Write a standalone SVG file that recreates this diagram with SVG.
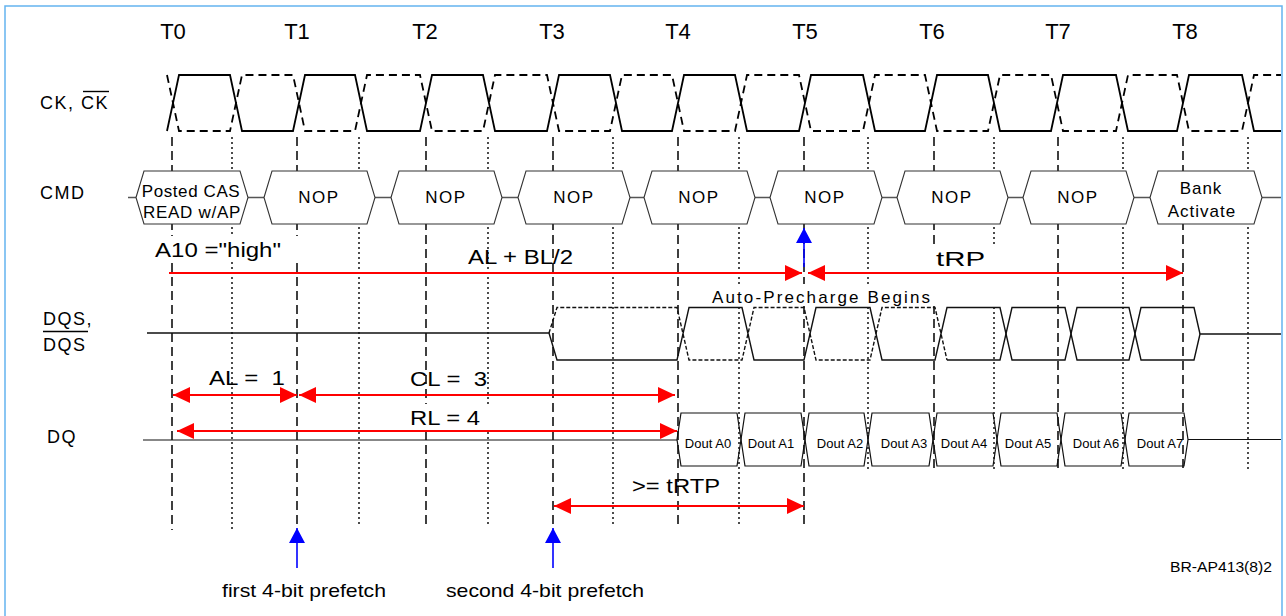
<svg xmlns="http://www.w3.org/2000/svg" width="1286" height="616" viewBox="0 0 1286 616">
<defs>
<style>
text{font-family:"Liberation Sans",Arial,sans-serif;fill:#000}
.tl{font-size:22px;text-anchor:middle}
.sig{font-size:18px;letter-spacing:1.5px}
.cmd{font-size:17px;text-anchor:middle;letter-spacing:1.5px}
.dout{font-size:13px;text-anchor:middle}
.big{font-size:20px;white-space:pre}
.note{font-size:19px}
.grid-d{stroke:#000;stroke-width:1.5;stroke-dasharray:9 5;fill:none}
.grid-o{stroke:#000;stroke-width:1.4;stroke-dasharray:2 3;fill:none}
.ck{stroke:#000;stroke-width:1.8;fill:none}
.ckn{stroke:#000;stroke-width:1.8;fill:none;stroke-dasharray:8 5}
.box{stroke:#333;stroke-width:1.1;fill:#fff}
.bus{stroke:#555;stroke-width:1.4;fill:none}
.dqs{stroke:#111;stroke-width:1.4;fill:none}
.dqsd{stroke:#111;stroke-width:1.4;fill:none;stroke-dasharray:4 2}
.dq{stroke:#111;stroke-width:1.2;fill:none}
.red{stroke:#ff0000;stroke-width:2;fill:none}
.blue{stroke:#0000ff;stroke-width:1.6;fill:none}
.mask{fill:#fff;stroke:none}
</style>
<marker id="ra" viewBox="0 0 17 16" refX="17" refY="8" markerWidth="17" markerHeight="16" markerUnits="userSpaceOnUse" orient="auto-start-reverse"><path d="M0,0 L17,8 L0,16 Z" fill="#ff0000"/></marker>
<marker id="ba" viewBox="0 0 15 16" refX="15" refY="8" markerWidth="15" markerHeight="16" markerUnits="userSpaceOnUse" orient="auto"><path d="M0,0 L15,8 L0,16 Z" fill="#0000ff"/></marker>
</defs>
<rect width="1286" height="616" fill="#fff"/>
<g id="frame" stroke="#64b4f0" stroke-width="1.5" fill="none">
<path d="M5,620 L5,6 L1282,6 L1282,620"/>
</g>
<g id="time-labels">
<text class="tl" x="173" y="39">T0</text>
<text class="tl" x="297" y="39">T1</text>
<text class="tl" x="425" y="39">T2</text>
<text class="tl" x="552" y="39">T3</text>
<text class="tl" x="678" y="39">T4</text>
<text class="tl" x="805" y="39">T5</text>
<text class="tl" x="932" y="39">T6</text>
<text class="tl" x="1058" y="39">T7</text>
<text class="tl" x="1185" y="39">T8</text>
</g>
<g id="signal-labels">
<text class="sig" x="40" y="109">CK, CK</text>
<line x1="83" y1="91.5" x2="109" y2="91.5" stroke="#000" stroke-width="1.4"/>
<text class="sig" x="40" y="199">CMD</text>
<text class="sig" x="43" y="325">DQS,</text>
<line x1="43" y1="331.5" x2="88" y2="331.5" stroke="#000" stroke-width="1.4"/>
<text class="sig" x="43" y="351">DQS</text>
<text class="sig" x="47" y="443">DQ</text>
</g>
<g id="grid">
<path class="grid-d" d="M172,137V530M297,137V528M426,137V525M553,137V528M678,137V525M804,137V525M934,137V470M1058,137V470M1183,137V470"/>
<path class="grid-o" d="M232,137V530M359,137V525M488,137V525M613,137V525M739,137V525M868,137V470M994,137V470M1123,137V470M1248,137V470"/>
</g>
<g id="ck">
<path class="ck" d="M167,131 L179,75 L230,75 L242,131 L293,131 L305,75 L355,75 L367,131 L420,131 L432,75 L483,75 L495,131 L547,131 L559,75 L610,75 L622,131 L672,131 L684,75 L735,75 L747,131 L799,131 L811,75 L863,75 L875,131 L925,131 L937,75 L988,75 L1000,131 L1051,131 L1063,75 L1116,75 L1128,131 L1177,131 L1189,75 L1242,75 L1254,131 L1281,131"/>
<path class="ckn" d="M167,75 L179,131 L230,131 L242,75 L293,75 L305,131 L355,131 L367,75 L420,75 L432,131 L483,131 L495,75 L547,75 L559,131 L610,131 L622,75 L672,75 L684,131 L735,131 L747,75 L799,75 L811,131 L863,131 L875,75 L925,75 L937,131 L988,131 L1000,75 L1051,75 L1063,131 L1116,131 L1128,75 L1177,75 L1189,131 L1242,131 L1254,75 L1281,75"/>
</g>
<g id="cmd-bus">
<path class="bus" d="M128,197.5H136M248,197.5H264M375,197.5H391M502,197.5H518M630,197.5H644M755,197.5H770M882,197.5H897M1008,197.5H1023M1134,197.5H1150M1262,197.5H1281"/>
</g>
<g id="cmd0"><path class="box" d="M136,197.5 L144,171 L240,171 L248,197.5 L240,224 L144,224 Z"/><text class="cmd" style="letter-spacing:0.6px" x="191" y="197">Posted CAS</text><text class="cmd" style="letter-spacing:0.7px" x="192" y="218">READ w/AP</text></g>
<g id="cmd1"><path class="box" d="M264,197.5 L272,171 L367,171 L375,197.5 L367,224 L272,224 Z"/><text class="cmd" x="319" y="203">NOP</text></g>
<g id="cmd2"><path class="box" d="M391,197.5 L399,171 L494,171 L502,197.5 L494,224 L399,224 Z"/><text class="cmd" x="446" y="203">NOP</text></g>
<g id="cmd3"><path class="box" d="M518,197.5 L526,171 L622,171 L630,197.5 L622,224 L526,224 Z"/><text class="cmd" x="574" y="203">NOP</text></g>
<g id="cmd4"><path class="box" d="M644,197.5 L652,171 L747,171 L755,197.5 L747,224 L652,224 Z"/><text class="cmd" x="699" y="203">NOP</text></g>
<g id="cmd5"><path class="box" d="M770,197.5 L778,171 L874,171 L882,197.5 L874,224 L778,224 Z"/><text class="cmd" x="825" y="203">NOP</text></g>
<g id="cmd6"><path class="box" d="M897,197.5 L905,171 L1000,171 L1008,197.5 L1000,224 L905,224 Z"/><text class="cmd" x="952" y="203">NOP</text></g>
<g id="cmd7"><path class="box" d="M1023,197.5 L1031,171 L1126,171 L1134,197.5 L1126,224 L1031,224 Z"/><text class="cmd" x="1078" y="203">NOP</text></g>
<g id="cmd8"><path class="box" d="M1150,197.5 L1158,171 L1254,171 L1262,197.5 L1254,224 L1158,224 Z"/><text class="cmd" style="letter-spacing:1px" x="1201" y="194">Bank</text><text class="cmd" style="letter-spacing:1px" x="1202" y="217">Activate</text></g>
<g id="dqs">
<path class="dqs" d="M147,333 L549,333 L557,360 L677,360 L689,307.5 L742,307.5 L754,360 L804,360 L816,307.5 L870,307.5 L882,360 L935,360 L947,307.5 L1000,307.5 L1012,360 L1065,360 L1077,307.5 L1129,307.5 L1141,360 L1194,360 L1200,334 L1281,334"/>
<path class="dqsd" d="M549,333 L557,307.5 L677,307.5 L689,360 L742,360 L754,307.5 L804,307.5 L816,360 L870,360 L882,307.5 L935,307.5 L947,360"/>
<path class="dqs" d="M947,360 L1000,360 L1012,307.5 L1065,307.5 L1077,360 L1129,360 L1141,307.5 L1194,307.5 L1200,334"/>
</g>
<g id="dq-bus">
<path class="dq" d="M143,440 L677,440 M1188,439.5 L1281,439.5"/>
</g>
<g id="dq0"><path class="dq" d="M677,439.5 L681,413 L737,413 L741,439.5 L737,466 L681,466 Z"/><text class="dout" x="708" y="448">Dout A0</text></g>
<g id="dq1"><path class="dq" d="M741,439.5 L745,413 L801,413 L805,439.5 L801,466 L745,466 Z"/><text class="dout" x="771" y="448">Dout A1</text></g>
<g id="dq2"><path class="dq" d="M805,439.5 L809,413 L864,413 L868,439.5 L864,466 L809,466 Z"/><text class="dout" x="840" y="448">Dout A2</text></g>
<g id="dq3"><path class="dq" d="M868,439.5 L872,413 L929,413 L933,439.5 L929,466 L872,466 Z"/><text class="dout" x="904" y="448">Dout A3</text></g>
<g id="dq4"><path class="dq" d="M933,439.5 L937,413 L993,413 L997,439.5 L993,466 L937,466 Z"/><text class="dout" x="964" y="448">Dout A4</text></g>
<g id="dq5"><path class="dq" d="M997,439.5 L1001,413 L1057,413 L1061,439.5 L1057,466 L1001,466 Z"/><text class="dout" x="1028" y="448">Dout A5</text></g>
<g id="dq6"><path class="dq" d="M1061,439.5 L1065,413 L1121,413 L1125,439.5 L1121,466 L1065,466 Z"/><text class="dout" x="1096" y="448">Dout A6</text></g>
<g id="dq7"><path class="dq" d="M1125,439.5 L1129,413 L1184,413 L1188,439.5 L1184,466 L1129,466 Z"/><text class="dout" x="1160" y="448">Dout A7</text></g>
<g id="label-masks">
<rect class="mask" x="150" y="236" width="152" height="25"/>
<rect class="mask" x="708" y="284" width="226" height="22"/>
<rect class="mask" x="926" y="247" width="72" height="59"/>
<rect class="mask" x="395" y="404" width="128" height="25"/>
</g>
<g id="labels">
<text class="big" x="155" y="257" style="font-size:21px" textLength="126" lengthAdjust="spacingAndGlyphs">A10 ="high"</text>
<text class="big" x="468" y="264" textLength="105" lengthAdjust="spacingAndGlyphs">AL + BL/2</text>
<text class="big" x="936" y="266" textLength="49" lengthAdjust="spacingAndGlyphs">tRP</text>
<text x="712" y="303" style="font-size:17px" textLength="218" lengthAdjust="spacing">Auto-Precharge Begins</text>
<text class="big" x="209" y="385" textLength="76" lengthAdjust="spacingAndGlyphs">AL =  1</text>
<text class="big" x="410" y="386" textLength="77" lengthAdjust="spacingAndGlyphs">CL =  3</text>
<text class="big" x="410" y="425" textLength="70" lengthAdjust="spacingAndGlyphs">RL = 4</text>
<text class="big" x="632" y="493" textLength="88" lengthAdjust="spacingAndGlyphs">&gt;= tRTP</text>
<text class="note" x="222" y="597" textLength="164" lengthAdjust="spacingAndGlyphs">first 4-bit prefetch</text>
<text class="note" x="446" y="597" textLength="198" lengthAdjust="spacingAndGlyphs">second 4-bit prefetch</text>
<text x="1170" y="572" style="font-size:15px" textLength="102" lengthAdjust="spacingAndGlyphs">BR-AP413(8)2</text>
</g>
<g id="connectors">
<line class="red" x1="169" y1="273" x2="802" y2="273" marker-end="url(#ra)"/>
<line class="red" x1="808" y1="273" x2="1183" y2="273" marker-start="url(#ra)" marker-end="url(#ra)"/>
<line class="red" x1="173" y1="395" x2="297" y2="395" marker-start="url(#ra)" marker-end="url(#ra)"/>
<line class="red" x1="299" y1="395" x2="675" y2="395" marker-start="url(#ra)" marker-end="url(#ra)"/>
<line class="red" x1="177" y1="431" x2="677" y2="431" marker-start="url(#ra)" marker-end="url(#ra)"/>
<line class="red" x1="554" y1="506" x2="804" y2="506" marker-start="url(#ra)" marker-end="url(#ra)"/>
<line class="blue" x1="804" y1="267" x2="804" y2="228" marker-end="url(#ba)"/>
<line class="blue" x1="297" y1="568" x2="297" y2="528" marker-end="url(#ba)"/>
<line class="blue" x1="553" y1="568" x2="553" y2="528" marker-end="url(#ba)"/>
</g>
</svg>
